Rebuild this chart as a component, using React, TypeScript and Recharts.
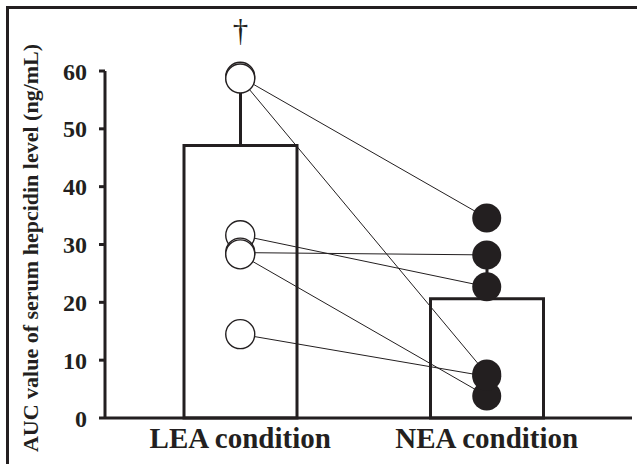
import React from 'react';
import { ComposedChart, Bar, Line, Scatter, XAxis, YAxis, ErrorBar, LabelList, Label } from 'recharts';

// Data
const conditions = ['LEA condition', 'NEA condition'];
const means = [47.1, 20.6];
const sdUpper = [11, 7];
const marks = ['†', ''];
// each subject: value in LEA, value in NEA
const leaValues = [59.0, 58.7, 31.6, 28.6, 28.3, 14.5];
const neaValues = [34.6, 7.6, 22.7, 28.2, 3.8, 7.2];
const yTicks = [0, 10, 20, 30, 40, 50, 60];

const INK = '#231f20';
const FONT = '"Liberation Serif", "Times New Roman", serif';

const data = conditions.map((cond, i) => {
  const row: Record<string, any> = { cond, mean: means[i], err: [0, sdUpper[i]], sig: marks[i] };
  leaValues.forEach((v, s) => {
    row[`s${s}`] = i === 0 ? v : neaValues[s];
  });
  return row;
});

const subjectKeys = leaValues.map((_, s) => `s${s}`);

const SubjectDot = (props: any) => {
  const { cx, cy, payload } = props;
  if (cx == null || cy == null) return null;
  const open = payload.cond === conditions[0];
  return (
    <circle
      cx={cx}
      cy={cy}
      r={14.5}
      fill={open ? '#fff' : INK}
      stroke={INK}
      strokeWidth={open ? 1.4 : 0}
    />
  );
};

const YTitle = () => (
  <text
    x={38}
    y={248}
    transform="rotate(-90 38 248)"
    textAnchor="middle"
    fontFamily={FONT}
    fontWeight="bold"
    fontSize={22}
    fill={INK}
  >
    AUC value of serum hepcidin level (ng/mL)
  </text>
);

export default function App() {
  return (
    <div style={{ position: 'absolute', left: 0, top: 0, width: 637, height: 464, background: '#fff' }}>
      {/* frame, cropped at right and bottom like the source */}
      <div
        style={{
          position: 'absolute',
          left: 6,
          top: 6,
          width: 640,
          height: 470,
          borderTop: `3px solid ${INK}`,
          borderLeft: `3px solid ${INK}`,
        }}
      />
      <div style={{ position: 'absolute', left: 0, top: 0 }}>
        <ComposedChart width={637} height={464} data={data} margin={{ top: 71, right: 5, bottom: 0, left: 0 }}>
          <XAxis
            dataKey="cond"
            type="category"
            padding={{ left: 12, right: 22 }}
            axisLine={{ stroke: INK, strokeWidth: 3 }}
            tickLine={false}
            tickSize={0}
            tickMargin={9}
            height={46}
            tick={{ fill: INK, fontFamily: FONT, fontWeight: 'bold', fontSize: 29 }}
          />
          <YAxis
            domain={[0, 60]}
            ticks={yTicks}
            width={105}
            tickSize={6}
            tickMargin={12}
            axisLine={{ stroke: INK, strokeWidth: 3 }}
            tickLine={{ stroke: INK, strokeWidth: 3 }}
            tick={{ fill: INK, fontFamily: FONT, fontWeight: 'bold', fontSize: 24 }}
          >
            <Label content={<YTitle />} />
          </YAxis>
          <Bar dataKey="mean" barSize={113} fill="#fff" stroke={INK} strokeWidth={3} isAnimationActive={false}>
            <ErrorBar dataKey="err" width={0} stroke={INK} strokeWidth={3} direction="y" />
            <LabelList
              dataKey="sig"
              content={(p: any) =>
                p.value ? (
                  <text
                    x={p.x + p.width / 2}
                    y={p.y - 105}
                    textAnchor="middle"
                    fontFamily={FONT}
                    fontSize={31}
                    fill={INK}
                  >
                    {p.value}
                  </text>
                ) : null
              }
            />
          </Bar>
          {subjectKeys.map((k) => (
            <Line
              key={`l-${k}`}
              dataKey={k}
              type="linear"
              stroke={INK}
              strokeWidth={1}
              dot={false}
              activeDot={false}
              isAnimationActive={false}
            />
          ))}
          {subjectKeys.map((k) => (
            <Scatter key={`p-${k}`} dataKey={k} shape={SubjectDot} isAnimationActive={false} />
          ))}
        </ComposedChart>
      </div>
    </div>
  );
}
